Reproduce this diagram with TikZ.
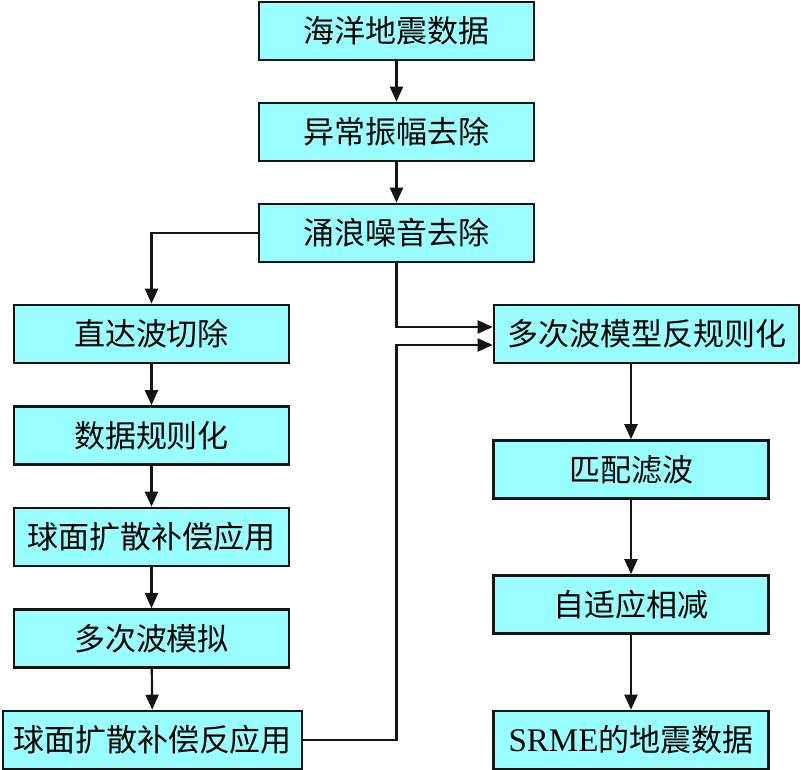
\documentclass[tikz,border=0pt]{standalone}
\usepackage{fontspec}
\setmainfont{Liberation Serif}
\newfontfamily\cjk{Noto Sans CJK SC}
\usetikzlibrary{arrows.meta}
\definecolor{boxfill}{RGB}{153,255,255}
\definecolor{edge}{RGB}{20,20,20}
\tikzset{
  box/.style={draw=edge, line width=2.6pt, fill=boxfill, rectangle,
    minimum width=275pt, minimum height=58pt, inner sep=0pt,
    font=\fontsize{31}{36}\selectfont\cjk},
  wide/.style={minimum width=299pt},
  wider/.style={minimum width=305pt},
  conn/.style={draw=edge, line width=2.2pt, -{Triangle[length=15pt,width=13pt]}},
}
\begin{document}
\begin{tikzpicture}[x=1pt,y=-1pt]
\useasboundingbox (0,0) rectangle (801,770);
\node[box] (b1) at (396.5,31) {海洋地震数据};
\node[box] (b2) at (396.5,132) {异常振幅去除};
\node[box] (b3) at (396.5,233) {涌浪噪音去除};
\node[box] (l1) at (151.5,334) {直达波切除};
\node[box] (l2) at (151.5,435.5) {数据规则化};
\node[box] (l3) at (151.5,537) {球面扩散补偿应用};
\node[box] (l4) at (151.5,638.5) {多次波模拟};
\node[box,wide] (l5) at (152.5,740) {球面扩散补偿反应用};
\node[box,wider] (r1) at (646.5,334) {多次波模型反规则化};
\node[box] (r2) at (631,469.5) {匹配滤波};
\node[box] (r3) at (631,604.5) {自适应相减};
\node[box] (r4) at (631,740) {{\fontsize{33}{36}\selectfont\rmfamily SRME}的地震数据};

\draw[conn] (b1) -- (b2);
\draw[conn] (b2) -- (b3);
\draw[conn] (b3.west) -| (l1.north);
\draw[conn] (b3.south) |- ([yshift=7pt]r1.west);
\coordinate (k) at (l5.east -| b3.south);
\draw[conn] (l5.east) -- (k) |- ([yshift=-11pt]r1.west);
\draw[conn] (l1) -- (l2);
\draw[conn] (l2) -- (l3);
\draw[conn] (l3) -- (l4);
\draw[conn] (l4) -- (l5);
\draw[conn] (r1.south -| r2.north) -- (r2.north);
\draw[conn] (r2) -- (r3);
\draw[conn] (r3) -- (r4);
\end{tikzpicture}
\end{document}
